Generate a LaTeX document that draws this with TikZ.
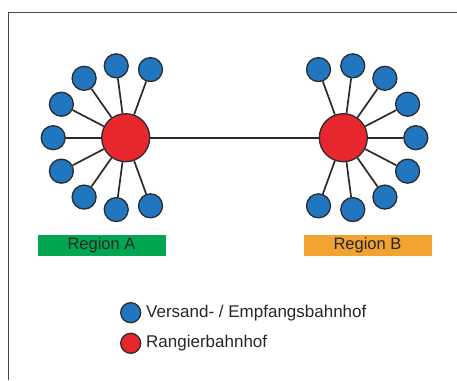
\documentclass[tikz,border=0pt]{standalone}
\usepackage{fontspec}
\setmainfont{Liberation Sans}
\usetikzlibrary{positioning, calc}

\definecolor{stationblue}{HTML}{2176C0}
\definecolor{hubred}{HTML}{E8262E}
\definecolor{regiongreen}{HTML}{00A651}
\definecolor{regionorange}{HTML}{F0A330}
\definecolor{edgegray}{HTML}{2B2B2B}

\tikzset{
    hub/.style={circle, draw=edgegray, line width=1.3pt, fill=hubred,
        minimum size=48pt, inner sep=0pt},
    station/.style={circle, draw=edgegray, line width=1.3pt, fill=stationblue,
        minimum size=24pt, inner sep=0pt},
    link/.style={draw=edgegray, line width=1.7pt},
    regionbox/.style={minimum width=128pt, minimum height=21pt, inner sep=0pt,
        text=black!85, font=\fontsize{16.5}{19}\selectfont},
    legendtext/.style={anchor=west, inner sep=0pt, text=black!85,
        font=\fontsize{17}{20}\selectfont}
}

\begin{document}
\begin{tikzpicture}[x=1pt, y=1pt]
\useasboundingbox (0,0) rectangle (457,380);

% frame
\draw[line width=1.5pt, draw=black!72]
    (8.5,0) -- (8.5,367.3) -- (457,367.3);

% hubs
\node[hub] (hubA) at (125.7,242.3) {};
\node[hub] (hubB) at (343.3,242.3) {};

\draw[link] (hubA) -- (hubB);

% stations region A
\node[station] (a1) at ($(hubA) + (70:72.5)$) {};
\node[station] (a2) at ($(hubA) + (97.5:72.5)$) {};
\node[station] (a3) at ($(hubA) + (125:72.5)$) {};
\node[station] (a4) at ($(hubA) + (152.5:72.5)$) {};
\node[station] (a5) at ($(hubA) + (180:72.5)$) {};
\node[station] (a6) at ($(hubA) + (207.5:72.5)$) {};
\node[station] (a7) at ($(hubA) + (235:72.5)$) {};
\node[station] (a8) at ($(hubA) + (262.5:72.5)$) {};
\node[station] (a9) at ($(hubA) + (290:72.5)$) {};

\draw[link] (hubA) -- (a1);
\draw[link] (hubA) -- (a2);
\draw[link] (hubA) -- (a3);
\draw[link] (hubA) -- (a4);
\draw[link] (hubA) -- (a5);
\draw[link] (hubA) -- (a6);
\draw[link] (hubA) -- (a7);
\draw[link] (hubA) -- (a8);
\draw[link] (hubA) -- (a9);

% stations region B
\node[station] (b1) at ($(hubB) + (110:72.5)$) {};
\node[station] (b2) at ($(hubB) + (82.5:72.5)$) {};
\node[station] (b3) at ($(hubB) + (55:72.5)$) {};
\node[station] (b4) at ($(hubB) + (27.5:72.5)$) {};
\node[station] (b5) at ($(hubB) + (0:72.5)$) {};
\node[station] (b6) at ($(hubB) + (-27.5:72.5)$) {};
\node[station] (b7) at ($(hubB) + (-55:72.5)$) {};
\node[station] (b8) at ($(hubB) + (-82.5:72.5)$) {};
\node[station] (b9) at ($(hubB) + (-110:72.5)$) {};

\draw[link] (hubB) -- (b1);
\draw[link] (hubB) -- (b2);
\draw[link] (hubB) -- (b3);
\draw[link] (hubB) -- (b4);
\draw[link] (hubB) -- (b5);
\draw[link] (hubB) -- (b6);
\draw[link] (hubB) -- (b7);
\draw[link] (hubB) -- (b8);
\draw[link] (hubB) -- (b9);

% region labels
\node[regionbox, fill=regiongreen] (regA) at (101.5,134.5) {Region A};
\node[regionbox, fill=regionorange] (regB) at (367.5,134.5) {Region B};

% legend
\node[station, minimum size=20pt] (legStation) at (130.7,67.3) {};
\node[hub, minimum size=20pt] (legHub) at (130.7,36.7) {};
\node[legendtext] (txtStation) at (146,67.3) {Versand- / Empfangsbahnhof};
\node[legendtext] (txtHub) at (146,36.7) {Rangierbahnhof};

\end{tikzpicture}
\end{document}
